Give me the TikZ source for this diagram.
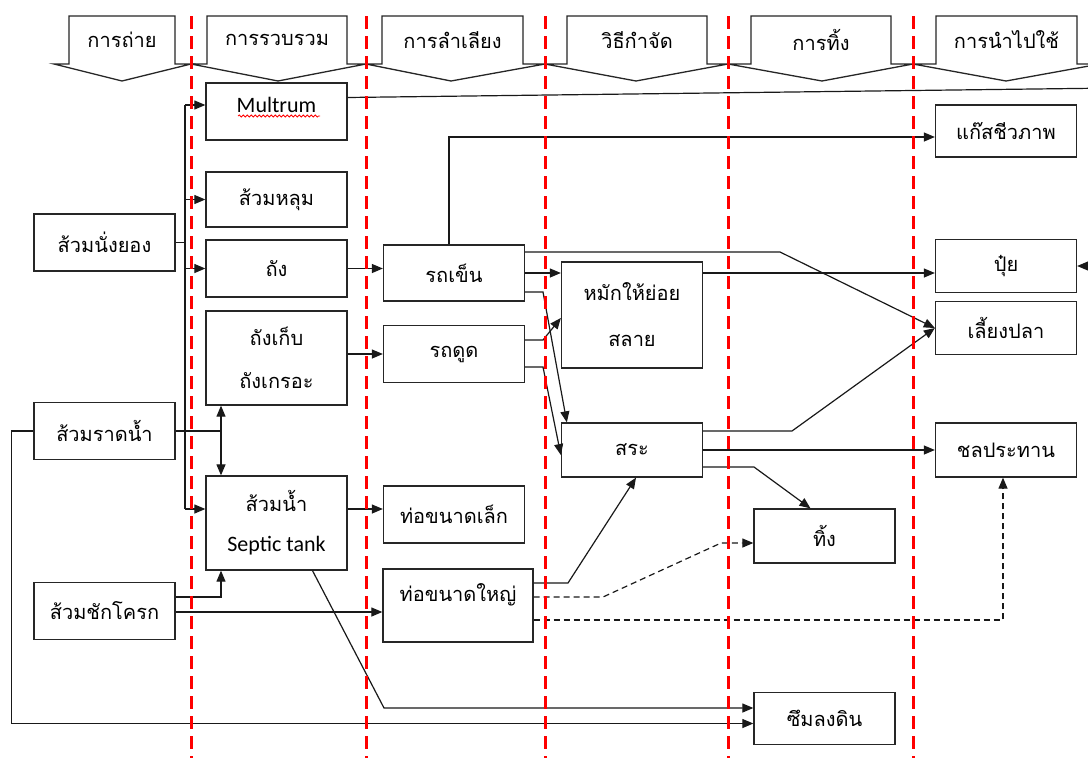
\documentclass[tikz,border=0pt]{standalone}
\usepackage{fontspec}
\setmainfont{Carlito}
\newfontfamily\thaifont[Script=Thai]{Loma}
\usetikzlibrary{arrows.meta,decorations.pathmorphing}

\begin{document}
\begin{tikzpicture}[x=1pt,y=-1pt]
  \tikzstyle{every node}+=[inner sep=0pt]
  \tikzstyle{box}=[draw=black!85, line width=1.3pt, fill=white, minimum width=141pt, minimum height=57pt, align=center, font=\thaifont\fontsize{20}{24}\selectfont]
  \tikzstyle{line}=[black!90, line width=1.2pt]
  \tikzstyle{arr}=[line, -{Triangle[length=11pt,width=9pt]}]
  \tikzstyle{darr}=[arr, dash pattern=on 6pt off 4pt]
  \tikzstyle{lane}=[red, line width=3pt, dash pattern=on 13pt off 7pt]
  \tikzstyle{head}=[draw=black!85, line width=1.3pt, fill=white]
  \useasboundingbox (0,0) rectangle (1088,758);
  \fill[white] (0,0) rectangle (1088,758);

  % column heads
  \foreach \fl/\rl/\rr/\fr/\tp/\t [count=\i] in {54/69/175/191/122/การถ่าย, 191/207/347/366/278/การรวบรวม, 366/382/523/545/451/การลำเลียง, 545/567/707/728/636/วิธีกำจัด, 728/751/891/913/822/การทิ้ง, 913/936/1077/1100/1006/การนำไปใช้}
  {
    \draw[head] (\rl,16) -- (\rr,16) -- (\rr,64) -- (\fr,64) -- (\tp,81) -- (\fl,64) -- (\rl,64) -- cycle;
    \node[font=\thaifont\fontsize{20}{24}\selectfont] (hd\i) at ({(\rl+\rr)/2},40) {\t};
  }

  % boxes
  \node[box] (nangyong) at (104.5,242.5) {ส้วมนั่งยอง};
  \node[box] (radnam) at (104.5,431) {ส้วมราดน้ำ};
  \node[box] (chakrok) at (104.5,611) {ส้วมชักโครก};
  \node[box, font=\fontsize{22}{26}\selectfont, text depth=14pt] (multrum) at (276.5,111.5) {Multrum};
  \node[box, minimum height=55pt] (lum) at (276.5,199.5) {ส้วมหลุม};
  \node[box] (thang) at (276.5,268.5) {ถัง};
  \node[box, minimum height=94pt, font=\thaifont\fontsize{20}{43}\selectfont] (krao) at (276.5,358) {ถังเก็บ\\ถังเกรอะ};
  \node[box, minimum height=94pt, font=\thaifont\fontsize{20}{40}\selectfont] (septic) at (276.5,523) {ส้วมน้ำ\\{\normalfont\fontsize{22}{40}\selectfont Septic tank}};
  \node[box, minimum height=56pt] (rotkhen) at (454,273) {รถเข็น};
  \node[box] (rotdut) at (454,354) {รถดูด};
  \node[box] (tholek) at (454,514.5) {ท่อขนาดเล็ก};
  \node[box, minimum width=150pt, minimum height=73pt, text depth=26pt] (thoyai) at (458,605.5) {ท่อขนาดใหญ่};
  \node[box, minimum height=106pt, font=\thaifont\fontsize{20}{46}\selectfont] (mak) at (632,315) {หมักให้ย่อย\\สลาย};
  \node[box, minimum height=54pt] (sa) at (632,450) {สระ};
  \node[box, minimum height=52pt] (gas) at (1006,131) {แก๊สชีวภาพ};
  \node[box, minimum height=53pt] (pui) at (1006,266) {ปุ๋ย};
  \node[box, minimum height=53pt] (pla) at (1006,328) {เลี้ยงปลา};
  \node[box, minimum height=54pt] (chon) at (1006,450) {ชลประทาน};
  \node[box, minimum height=54pt] (ting) at (824.5,536) {ทิ้ง};
  \node[box, minimum height=52pt] (suem) at (824.5,718.5) {ซึมลงดิน};
  \draw[red, line width=0.8pt, decorate, decoration={snake, amplitude=1pt, segment length=4pt}] (238,116) -- (320,116);

  % bends
  \coordinate (bustop) at (185,105);
  \coordinate (busbot) at (185,509);
  \coordinate (radj) at (221,431);
  \coordinate (sepbend) at (384,708);
  \coordinate (yai1) at (568,583);
  \coordinate (yai2) at (603,597);
  \coordinate (yai3) at (721,543);
  \coordinate (yai4) at (1003,620);
  \coordinate (khen1) at (780,252);
  \coordinate (khen3) at (543,292);
  \coordinate (dut1) at (543,340);
  \coordinate (dut2) at (543,367);
  \coordinate (sa1) at (792,431);
  \coordinate (sa3) at (754,467);
  \coordinate (offr) at (1115,88);

  % flows
  \draw[line] (nangyong.east) -- (nangyong.east -| bustop);
  \draw[line] (bustop) -- (busbot);
  \draw[arr] (bustop) -- (bustop -| multrum.west);
  \draw[arr] (lum.west -| bustop) -- (lum.west);
  \draw[arr] (thang.west -| bustop) -- (thang.west);
  \draw[arr] (busbot) -- (busbot -| septic.west);
  \draw[arr] (thang.east) -- (thang.east -| rotkhen.west);
  \draw[arr] (krao.east |- rotdut.west) -- (rotdut.west);
  \draw[line] (radnam.east) -- (radj);
  \draw[arr] (radj) -- (radj |- krao.south);
  \draw[arr] (radj) -- (radj |- septic.north);
  \draw[arr] (radnam.west) -- ++(-22,0) |- ([yshift=-5pt]suem.west);
  \draw[arr] ([yshift=14pt]chakrok.east) -| (radj |- septic.south);
  \draw[arr] ([yshift=-1pt]chakrok.east) -- ([yshift=-1pt]chakrok.east -| thoyai.west);
  \draw[arr] (busbot -| septic.east) -- (busbot -| tholek.west);
  \draw[arr] ([xshift=36pt]septic.south) -- (sepbend) -- (sepbend -| suem.west);
  \draw[arr] (yai1 -| thoyai.east) -- (yai1) -- ([xshift=4pt]sa.south);
  \draw[darr] (yai2 -| thoyai.east) -- (yai2) -- (yai3) -- (yai3 -| ting.west);
  \draw[darr] (yai4 -| thoyai.east) -- (yai4) -- (yai4 |- chon.south);
  \draw[arr] (sa1 -| sa.east) -- (sa1) -- (pla.west);
  \draw[arr] (sa.east) -- (chon.west);
  \draw[arr] (sa3 -| sa.east) -- (sa3) -- ([xshift=-14pt]ting.north);
  \draw[arr] (khen1 -| rotkhen.east) -- (khen1) -- (pla.west);
  \draw[arr] (rotkhen.east) -- (rotkhen.east -| mak.west);
  \draw[arr] (khen3 -| rotkhen.east) -- (khen3) -- ([xshift=6pt]sa.north west);
  \draw[arr] ([xshift=-5pt]rotkhen.north) |- ([yshift=-6pt]gas.west);
  \draw[arr] (dut1 -| rotdut.east) -- (dut1) -- ([yshift=-3pt]mak.west);
  \draw[arr] (dut2 -| rotdut.east) -- (dut2) -- ([yshift=-5pt]sa.west);
  \draw[arr] (mak.east |- rotkhen.east) -- (pui.west |- rotkhen.east);
  \draw[arr] ([yshift=14pt]multrum.east) -- (offr) |- (pui.east);

  % lanes
  \foreach \x in {191,366,545,728,913}
    \draw[lane] (\x,16) -- (\x,758);
\end{tikzpicture}
\end{document}
